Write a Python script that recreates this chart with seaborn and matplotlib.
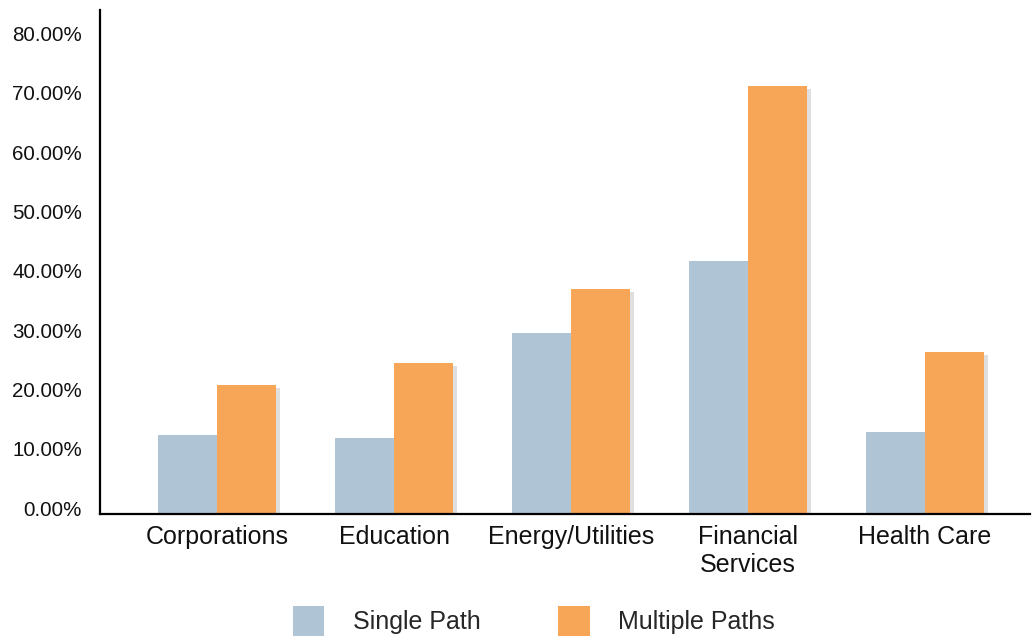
import matplotlib
matplotlib.use("Agg")
import matplotlib.pyplot as plt
import matplotlib.patheffects as pe
import matplotlib.transforms as mtransforms
from matplotlib.patches import Patch
import seaborn as sns
import pandas as pd

categories = ["Corporations", "Education", "Energy/Utilities", "Financial\nServices", "Health Care"]
single_path = [13.4, 12.8, 30.5, 42.6, 13.9]
multiple_paths = [21.8, 25.5, 37.9, 72.2, 27.3]
series_names = ["Single Path", "Multiple Paths"]
y_ticks = [0, 10, 20, 30, 40, 50, 60, 70, 80]
y_tick_labels = ["0.00%", "10.00%", "20.00%", "30.00%", "40.00%", "50.00%", "60.00%", "70.00%", "80.00%"]
colors = ["#AFC5D5", "#F7A557"]

df = pd.DataFrame({
    "Category": categories * 2,
    "Series": [series_names[0]] * len(categories) + [series_names[1]] * len(categories),
    "Value": single_path + multiple_paths,
})

sns.set_theme(style="white")
plt.rcParams["font.family"] = ["Liberation Sans", "DejaVu Sans"]

fig = plt.figure(figsize=(10.34, 6.36), dpi=100)
ax = fig.add_axes([100 / 1034, 1 - 514 / 636, 930 / 1034, 504 / 636])

sns.barplot(data=df, x="Category", y="Value", hue="Series", palette=colors,
            width=0.663, saturation=1, ax=ax, legend=False, linewidth=0)

shadow = [pe.SimplePatchShadow(offset=(3, -2), shadow_rgbFace="#808080", alpha=0.25), pe.Normal()]
for p in ax.patches:
    p.set_path_effects(shadow)

ax.set_xlim(-0.661, 4.593)
ax.set_ylim(0, 85.0)
ax.set_yticks(y_ticks)
ax.set_yticklabels(y_tick_labels, fontsize=14.8, color="#111111")
ax.tick_params(axis="y", length=0, pad=13)
ax.tick_params(axis="x", length=0, pad=8, labelsize=18, labelcolor="#111111")
for lbl in ax.get_xticklabels():
    lbl.set_linespacing(1.2)
ax.set_xlabel("")
ax.set_ylabel("")

offset = mtransforms.ScaledTranslation(0, 6 / 100, fig.dpi_scale_trans)
for lbl in ax.get_yticklabels():
    lbl.set_transform(lbl.get_transform() + offset)

for s in ["top", "right"]:
    ax.spines[s].set_visible(False)
for s in ["left", "bottom"]:
    ax.spines[s].set_color("black")
    ax.spines[s].set_linewidth(1.6)

handles = [Patch(facecolor=c, edgecolor="none", label=n) for c, n in zip(colors, series_names)]
fig.legend(handles=handles, loc="center", bbox_to_anchor=(534 / 1034, 1 - 621 / 636), ncol=2,
           frameon=False, fontsize=18, handlelength=1.25, handleheight=1.5,
           handletextpad=1.15, columnspacing=3.1)

fig.savefig("out.png", dpi=100)
